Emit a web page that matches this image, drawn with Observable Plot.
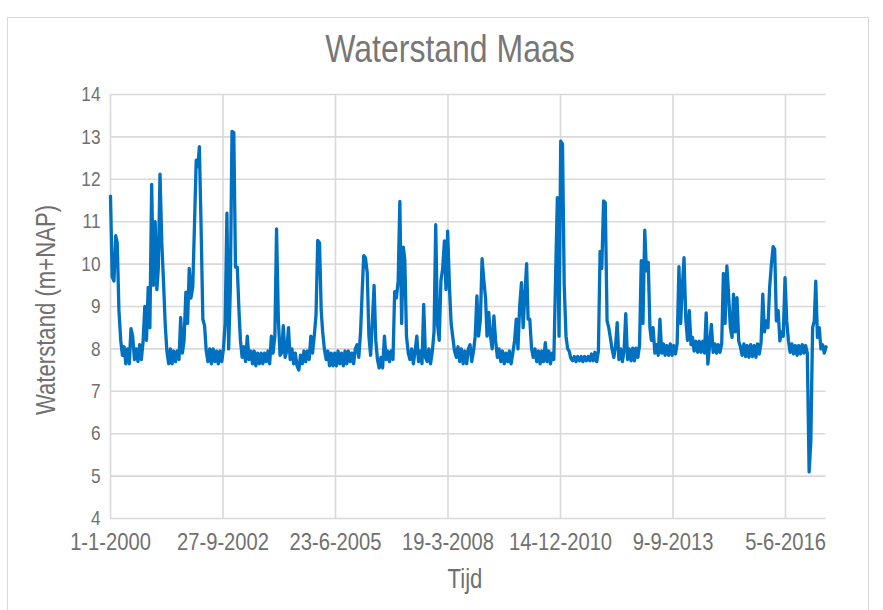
<!DOCTYPE html>
<html><head><meta charset="utf-8">
<script src="https://cdn.jsdelivr.net/npm/d3@7"></script>
<script src="https://cdn.jsdelivr.net/npm/@observablehq/plot@0.6"></script>
<style>
html,body{margin:0;padding:0;background:#fff;}
#chart{position:relative;width:883px;height:610px;overflow:hidden;}
</style></head><body><div id="chart"></div>
<script>
const title = "Waterstand Maas";
const yTitle = "Waterstand (m+NAP)";
const xTitle = "Tijd";
const xTickDates = ["2000-01-01","2002-09-27","2005-06-23","2008-03-19","2010-12-14","2013-09-09","2016-06-05"];
const xTickLabels = ["1-1-2000","27-9-2002","23-6-2005","19-3-2008","14-12-2010","9-9-2013","5-6-2016"];
const yTicks = [4,5,6,7,8,9,10,11,12,13,14];

// waterstand (m+NAP), twee waarden per maand (1e en 16e)
const level2000 = [11.6,9.7,9.6,10.67,10.5,8.9,8.2,7.85,8.05,7.65,8.0,7.65,8.48,8.3,7.75,8.0,7.7,8.1,7.75,8.15,9.0,8.2,9.45,8.5];
const level2001 = [11.88,9.5,11.0,9.4,9.9,12.12,10.5,9.6,8.6,7.95,7.65,8.0,7.65,7.95,7.7,7.95,7.75,8.74,7.9,8.2,9.34,8.6,9.9,9.2];
const level2002 = [9.45,10.87,12.45,12.3,12.77,10.9,8.7,8.55,7.95,7.7,8.0,7.65,8.0,7.7,7.95,7.65,7.95,7.7,8.0,8.6,11.2,8.0,9.4,13.13];
const level2003 = [13.1,9.93,9.93,8.9,8.2,7.8,8.05,7.7,8.3,7.75,7.95,7.65,7.95,7.6,7.9,7.65,7.9,7.65,7.9,7.7,7.95,7.65,8.3,7.9];
const level2004 = [8.3,10.83,8.7,7.85,7.9,8.55,7.8,7.95,8.5,7.75,8.0,7.65,7.9,7.6,7.5,7.85,7.65,7.95,7.7,7.95,7.75,8.3,7.9,8.3];
const level2005 = [8.8,10.56,10.5,8.9,8.4,8.0,7.75,7.95,7.6,7.9,7.6,7.9,7.6,7.95,7.65,7.9,7.6,7.95,7.65,7.95,7.7,7.9,7.65,8.0];
const level2006 = [8.1,7.8,8.4,9.4,10.2,10.15,9.8,8.3,7.85,8.6,9.5,8.2,7.75,7.55,7.8,7.55,8.3,7.75,7.95,7.7,7.95,7.75,9.35,9.2];
const level2007 = [9.6,11.48,8.6,10.4,10.1,8.3,7.9,7.75,8.0,7.65,7.95,8.3,7.7,7.95,7.65,9.05,7.8,7.7,8.0,7.65,7.95,8.4,10.93,8.6];
const level2008 = [8.2,9.6,9.9,10.55,9.4,10.78,9.45,8.6,8.27,7.95,7.8,8.05,7.7,8.0,7.65,7.95,7.65,8.0,8.1,7.7,7.95,8.3,9.25,8.3];
const level2009 = [8.7,10.13,9.6,9.2,8.3,8.86,8.3,8.0,8.78,8.2,7.8,8.0,7.7,7.95,7.65,7.9,7.7,7.95,7.65,7.9,8.2,8.7,8.0,9.0];
const level2010 = [9.56,8.5,9.3,10.01,8.7,8.7,8.0,7.8,8.0,7.7,7.95,7.65,7.95,7.7,8.15,7.7,7.95,7.65,7.9,7.75,9.76,11.57,8.3,12.9];
const level2011 = [12.83,9.5,8.3,8.0,7.95,7.78,7.72,7.82,7.7,7.82,7.72,7.82,7.7,7.82,7.72,7.82,7.72,7.88,7.72,7.92,7.7,7.95,10.3,9.9];
const level2012 = [11.49,11.45,8.66,8.5,8.27,8.0,7.8,8.05,8.62,7.75,8.0,7.7,7.95,8.83,7.75,8.0,7.72,8.02,7.72,8.02,7.8,8.1,10.08,8.6];
const level2013 = [10.8,9.84,10.04,8.5,8.2,8.5,7.9,8.1,7.85,8.7,7.9,8.12,7.85,8.08,7.85,8.12,7.85,8.08,7.88,8.12,9.94,8.6,9.45,10.15];
const level2014 = [8.7,8.2,8.9,8.1,8.27,7.95,8.18,7.92,8.18,7.92,8.18,7.9,8.85,7.64,8.1,8.58,7.92,8.12,7.9,8.1,7.92,8.12,9.78,8.6];
const level2015 = [9.96,9.29,8.5,8.27,9.29,8.4,9.21,8.19,8.05,7.85,8.12,7.82,8.08,7.8,8.1,7.82,8.08,7.8,8.12,7.88,8.15,9.29,8.4,8.66];
const level2016 = [8.5,9.45,10.0,10.41,10.35,8.66,8.9,8.19,8.4,8.3,9.68,8.66,8.2,7.92,8.12,7.88,8.08,7.85,8.08,7.88,8.1,7.9,8.08,7.9];
const level2017 = [5.1,5.8,8.5,8.66,9.6,8.27,8.5,8.0,8.1,7.9,8.05];

const years = [2000,2001,2002,2003,2004,2005,2006,2007,2008,2009,2010,2011,2012,2013,2014,2015,2016,2017];
const levelsByYear = [level2000,level2001,level2002,level2003,level2004,level2005,level2006,level2007,level2008,level2009,level2010,level2011,level2012,level2013,level2014,level2015,level2016,level2017];

const data = [];
years.forEach((yr, k) => levelsByYear[k].forEach((v, i) => {
  data.push({date: new Date(Date.UTC(yr, Math.floor(i / 2), i % 2 ? 16 : 1)), level: v});
}));

const parse = s => new Date(s + "T00:00:00Z");
const tickDates = xTickDates.map(parse);
const textColor = "#707070";
const font = "'Liberation Sans', Arial, Helvetica, sans-serif";

const plot = Plot.plot({
  width: 883,
  height: 610,
  marginLeft: 110,
  marginRight: 57.4,
  marginTop: 94,
  marginBottom: 92,
  x: {type: "utc", domain: [tickDates[0], data[data.length - 1].date], axis: null},
  y: {domain: [4, 14], axis: null},
  style: {fontFamily: font, background: "transparent", overflow: "visible"},
  marks: [
    Plot.ruleY(yTicks, {stroke: "#d9d9d9", strokeWidth: 1.6}),
    Plot.ruleX(tickDates, {stroke: "#d9d9d9", strokeWidth: 1.6}),
    Plot.line(data, {x: "date", y: "level", stroke: "#0070C0", strokeWidth: 3.3, strokeLinejoin: "round", strokeLinecap: "round"}),
    Plot.text(yTicks, {y: d => d, frameAnchor: "left", dx: -10, textAnchor: "end", text: d => String(d), fontSize: 21, fill: textColor}),
    Plot.text(tickDates, {x: d => d, frameAnchor: "bottom", dy: 31, text: (d, i) => xTickLabels[i], fontSize: 24, fill: textColor, className: "xtick"})
  ]
});

const svg = d3.select(plot);
svg.insert("rect", ":first-child")
  .attr("x", 7.5).attr("y", 17.5).attr("width", 861).attr("height", 620)
  .attr("fill", "none").attr("stroke", "#d9d9d9").attr("stroke-width", 1);
svg.append("text")
  .attr("x", 450).attr("y", 62).attr("text-anchor", "middle")
  .attr("font-size", 39).attr("fill", "#777777").attr("font-family", font)
  .text(title);
svg.append("text")
  .attr("x", 465).attr("y", 588).attr("text-anchor", "middle")
  .attr("font-size", 27).attr("fill", textColor).attr("font-family", font)
  .text(xTitle);
svg.append("text")
  .attr("transform", "translate(55,310) rotate(-90)").attr("text-anchor", "middle")
  .attr("font-size", 27).attr("fill", textColor).attr("font-family", font)
  .text(yTitle);

document.getElementById("chart").append(plot);

// condensed lettering like the original
svg.selectAll("text").each(function () {
  const w = this.getComputedTextLength();
  if (w > 0) {
    const isXTick = this.parentNode && this.parentNode.classList && this.parentNode.classList.contains("xtick");
    const f = isXTick ? 0.84 : 0.82;
    this.setAttribute("textLength", (w * f).toFixed(1));
    this.setAttribute("lengthAdjust", "spacingAndGlyphs");
  }
});
</script></body></html>
